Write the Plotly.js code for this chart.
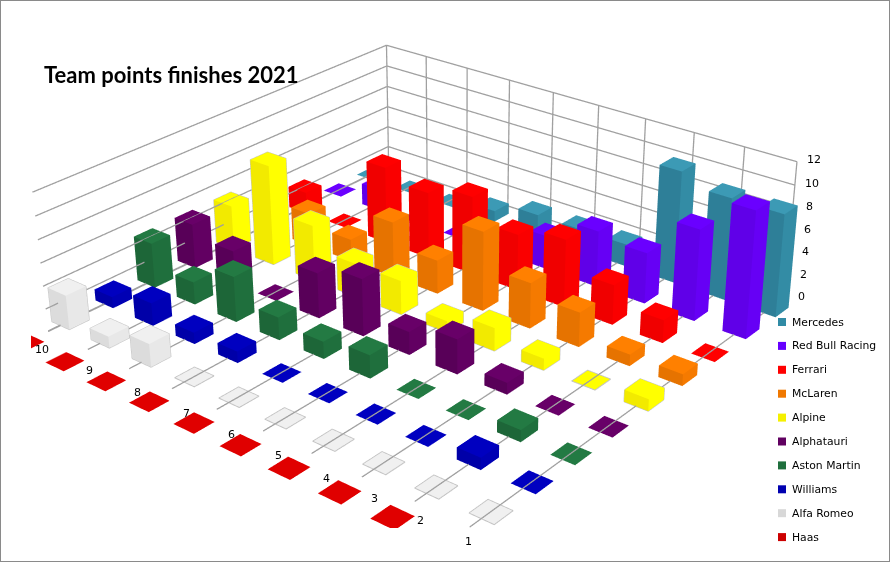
<!DOCTYPE html>
<html><head><meta charset="utf-8">
<script src="https://cdn.plot.ly/plotly-3.0.1.min.js"></script>
<style>
html,body{margin:0;padding:0;background:#fff;overflow:hidden}
#frame{position:absolute;left:0;top:0;width:890px;height:562px;overflow:hidden;background:#fff}
#edge{position:absolute;left:0;top:0;width:888px;height:560px;border:1px solid #8a8a8a;pointer-events:none}
#gd{position:absolute}
</style></head><body>
<div id="frame"><div id="gd"></div><div id="edge"></div></div>
<script>
const positions = [1,2,3,4,5,6,7,8,9,10];
const teams = ["Mercedes","Red Bull Racing","Ferrari","McLaren","Alpine","Alphatauri","Aston Martin","Williams","Alfa Romeo","Haas"];
const mercedes   = [9,9,10,2,2,2,1,0,0,0];
const redBull    = [11,8,4.5,5,3,1,0,0,2,0];
const ferrari    = [0,2,3.5,6,5,7,6,7,0,2];
const mclaren    = [1,1,3,4,7,3,5,2,3,0];
const alpine     = [1,0,1,2,1,3,3,5,9,4];
const alphatauri = [0,0,1,3,2,5,4,0,3,4];
const astonMartin= [0,1,0,0,2,1.5,2,4,2,4];
const williams   = [0,1,0,0,0,0,1,1,2,1];
const alfaRomeo  = [0,0,0,0,0,0,0,2,1,3];
const haas       = [0,0,0,0,0,0,0,0,0,0];
const seriesValues = [mercedes,redBull,ferrari,mclaren,alpine,alphatauri,astonMartin,williams,alfaRomeo,haas];
const topColors   = ["#3c9ab5","#6a00ff","#ff0000","#ff8000","#ffff00","#680068","#237a43","#0000c0","#f0f0f0","#e00000"];
const rightColors = ["#338ca5","#6600f5","#fa0000","#f57a00","#ffff00","#620062","#1f6f3d","#0000b4","#e8e8e8","#e00000"];
const leftColors  = ["#2e7f98","#6000e8","#f00000","#e67300","#f2ea00","#580058","#1d6638","#0000a8","#dcdcdc","#e00000"];
const swatchColors= ["#318ba5","#6600ff","#ff0000","#f07800","#f5f000","#600060","#1f6f3d","#0000b0","#d8d8d8","#cc0000"];
const zTicks = [0,2,4,6,8,10,12];
const outlinedTeams = ["Alfa Romeo","Alpine"];

const W=920,H=1523,LEFT=-26,TOP=-519;
const gd=document.getElementById('gd');
gd.style.left=LEFT+'px';gd.style.top=TOP+'px';gd.style.width=W+'px';gd.style.height=H+'px';
const px=x=>(x-LEFT)/W, py=y=>1-(y-TOP)/H;

const BAR=0.225, FRONT=8.5, BACK=-0.5, GL=0.05;
const traces=[];
teams.forEach((t,ti)=>{
  const X=[],Y=[],Z=[],I=[],J=[],K=[],C=[];
  positions.forEach((p,pi)=>{
    const v=seriesValues[ti][pi], n=X.length;
    [[-1,-1,0],[1,-1,0],[1,1,0],[-1,1,0],[-1,-1,1],[1,-1,1],[1,1,1],[-1,1,1]].forEach(c=>{
      X.push(p+c[0]*BAR);Y.push(ti+c[1]*BAR);Z.push(c[2]*v);
    });
    const quad=(a,b,c,d,col)=>{I.push(n+a,n+a);J.push(n+b,n+c);K.push(n+c,n+d);C.push(col,col);};
    if(v>0){
      quad(0,3,7,4,rightColors[ti]);
      quad(3,2,6,7,leftColors[ti]);
      quad(1,2,6,5,rightColors[ti]);
      quad(0,1,5,4,leftColors[ti]);
    }
    quad(4,5,6,7,topColors[ti]);
  });
  traces.push({type:'mesh3d',name:t,x:X,y:Y,z:Z,i:I,j:J,k:K,facecolor:C,flatshading:true,
    lighting:{ambient:1,diffuse:0,specular:0,fresnel:0,roughness:1},hoverinfo:'skip',showscale:false});
});

(function(){
  const lx=[],ly=[],lz=[];
  outlinedTeams.forEach(name=>{
    const ti=teams.indexOf(name);
    positions.forEach((p,pi)=>{
      const v=seriesValues[ti][pi];
      const a=p-BAR,b=p+BAR,c=ti-BAR,d=ti+BAR;
      const pts = v>0 ? [[b,d,0],[b,d,v],[b,c,v],[a,c,v],[a,c,0],[a,d,0],[b,d,0]]
                      : [[a,c,0.02],[b,c,0.02],[b,d,0.02],[a,d,0.02],[a,c,0.02]];
      pts.forEach(q=>{lx.push(q[0]);ly.push(q[1]);lz.push(q[2]);});
      lx.push(null);ly.push(null);lz.push(null);
    });
  });
  traces.push({type:'scatter3d',mode:'lines',x:lx,y:ly,z:lz,line:{color:'#c4c4c4',width:2},hoverinfo:'skip',showlegend:false});
})();

(function(){
  const lx=[],ly=[],lz=[];
  const seg=(a,b)=>{lx.push(a[0],b[0],null);ly.push(a[1],b[1],null);lz.push(a[2],b[2],null);};
  const p0=positions[0],pN=positions[positions.length-1],zTop=zTicks[zTicks.length-1];
  positions.forEach(p=>{
    seg([p,FRONT,GL],[p,BACK,GL]);
    seg([p,BACK,0],[p,BACK,zTop]);
  });
  zTicks.forEach(z=>{
    seg([p0,BACK,z],[pN,BACK,z]);
    seg([pN,BACK,z],[pN,FRONT,z]);
  });
  traces.push({type:'scatter3d',mode:'lines',x:lx,y:ly,z:lz,line:{color:'#a0a0a0',width:2.6},hoverinfo:'skip',showlegend:false});
})();

const labelShiftX=[3,10,16,19,19,19,18,12,6,-2], labelShiftY=[-2,2,5,8,8,8,8,7,4,2];
const sceneAnn=[];
zTicks.forEach(z=>sceneAnn.push({x:positions[0],y:BACK,z:z,text:String(z),showarrow:false,xshift:17,yshift:2,font:{family:'DejaVu Sans',size:11,color:'#000'}}));
positions.forEach((p,i)=>sceneAnn.push({x:p,y:FRONT,z:0,text:String(p),showarrow:false,xshift:-4+labelShiftX[i],yshift:-16-labelShiftY[i],font:{family:'DejaVu Sans',size:11,color:'#000'}}));

const rowY=i=>322+i*23.9;
const shapes=[
 {type:'rect',xref:'paper',yref:'paper',x0:px(0),x1:px(890),y0:py(528),y1:py(562),fillcolor:'#fff',line:{width:0},layer:'above'},
 {type:'rect',xref:'paper',yref:'paper',x0:px(0),x1:px(31),y0:py(300),y1:py(528),fillcolor:'#fff',line:{width:0},layer:'above'}
];
const anns=[];
teams.forEach((t,i)=>{
  shapes.push({type:'rect',xref:'paper',yref:'paper',x0:px(778),x1:px(786),y0:py(rowY(i)-4),y1:py(rowY(i)+4),fillcolor:swatchColors[i],line:{width:0},layer:'above'});
  anns.push({xref:'paper',yref:'paper',x:px(790),y:py(rowY(i)),xanchor:'left',yanchor:'middle',text:t,showarrow:false,font:{family:'DejaVu Sans',size:10.8,color:'#000'}});
});

const k=2.5;
const axis=r=>({visible:false,range:r,autorange:false,showgrid:false,showbackground:false,showspikes:false,zeroline:false,showticklabels:false,title:{text:''}});
const layout={
  width:W,height:H,margin:{l:0,r:0,t:0,b:0,pad:0},autosize:false,showlegend:false,
  paper_bgcolor:'rgba(0,0,0,0)',
  title:{text:'<b>Team points finishes 2021</b>',x:px(44),xref:'paper',xanchor:'left',y:py(75),yref:'paper',yanchor:'middle',font:{family:'Lato',size:22,color:'#000'}},
  shapes:shapes,annotations:anns,
  scene:{domain:{x:[0,1],y:[0,1]},aspectmode:'manual',
    aspectratio:{x:0.3911*1.2*k,y:0.3806*1.2*k,z:0.1088*k},
    xaxis:axis([-0.5,11.5]),yaxis:axis([-1.5,10.5]),zaxis:axis([-0.5,12.5]),
    bgcolor:'rgba(0,0,0,0)',dragmode:false,
    camera:{projection:{type:'perspective'},up:{x:-0.0042,y:-0.0034,z:1},
      eye:{x:-0.6903*k,y:0.8054*k,z:0.5328*k},center:{x:-0.0132*k,y:-0.0161*k,z:0.0084*k}},
    annotations:sceneAnn}
};
Plotly.newPlot(gd,traces,layout,{displayModeBar:false});
</script>
</body></html>
